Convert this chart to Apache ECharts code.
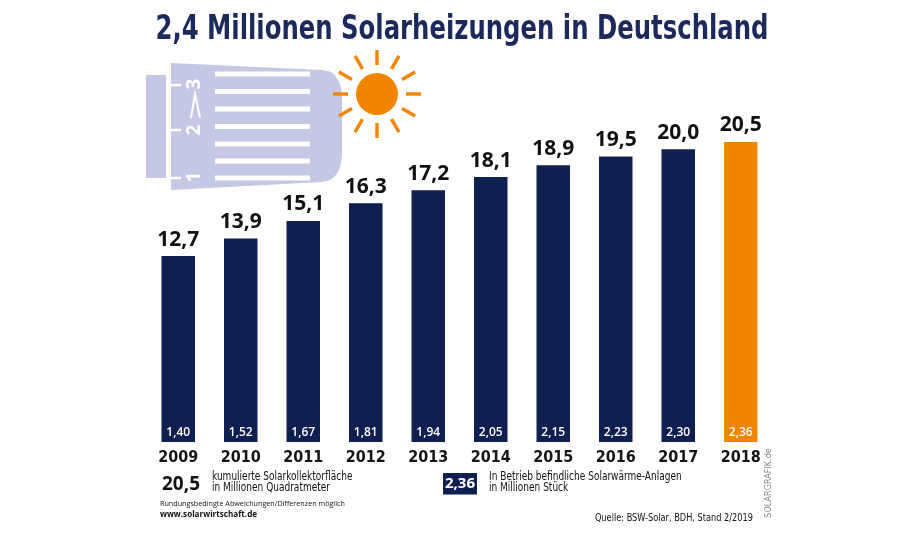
<!DOCTYPE html>
<html>
<head>
<meta charset="utf-8">
<script src="https://cdn.jsdelivr.net/npm/echarts@6/dist/echarts.min.js"></script>
<style>html,body{margin:0;padding:0;background:#fff}#c{width:920px;height:533px}</style>
</head>
<body>
<div id="c"></div>
<script>
const years = ['2009','2010','2011','2012','2013','2014','2015','2016','2017','2018'];
const collectorArea = [12.7, 13.9, 15.1, 16.3, 17.2, 18.1, 18.9, 19.5, 20.0, 20.5];
const systemsInOperation = [1.40, 1.52, 1.67, 1.81, 1.94, 2.05, 2.15, 2.23, 2.30, 2.36];

const NAVY = '#0e1f50';
const ORANGE = '#f18400';
const LAV = '#c5c8e4';
const COND = "'DejaVu Sans Condensed','Liberation Sans Narrow',sans-serif";
const SANS = "'Open Sans','Noto Sans',sans-serif";
const last = years.length - 1;
const fmt = (v, d) => v.toFixed(d).replace('.', ',');

const chart = echarts.init(document.getElementById('c'), null, {renderer: 'canvas'});

// quadratic curve helper for the thermostat outline
function quad(p0, c, p1, n) {
  const pts = [];
  for (let i = 1; i <= n; i++) {
    const t = i / n;
    pts.push([
      (1 - t) * (1 - t) * p0[0] + 2 * (1 - t) * t * c[0] + t * t * p1[0],
      (1 - t) * (1 - t) * p0[1] + 2 * (1 - t) * t * c[1] + t * t * p1[1]
    ]);
  }
  return pts;
}
const bodyPts = [[171, 63], [322, 70]]
  .concat(quad([322, 70], [342, 71], [342, 100], 10))
  .concat([[342, 152]])
  .concat(quad([342, 152], [342, 180], [322, 182], 10))
  .concat([[171, 190]]);

// sun rays
const sunRays = [];
for (let i = 0; i < 12; i++) {
  const a = i * Math.PI / 6;
  sunRays.push({
    type: 'line', silent: true,
    shape: {x1: 377 + 29 * Math.cos(a), y1: 94 + 29 * Math.sin(a), x2: 377 + 44 * Math.cos(a), y2: 94 + 44 * Math.sin(a)},
    style: {stroke: ORANGE, lineWidth: 3.4}
  });
}
const stripes = [74, 91.5, 109, 126.5, 144, 161, 178].map(y => ({
  type: 'rect', silent: true,
  shape: {x: 215, y: y - 2.6, width: 95, height: 5.2},
  style: {fill: '#fff'}
}));
const ticks = [85, 130, 178].map(y => ({
  type: 'line', silent: true,
  shape: {x1: 171, y1: y, x2: 181, y2: y},
  style: {stroke: '#fff', lineWidth: 2.5}
}));

function txt(x, y, text, font, sx, extra) {
  return Object.assign({type: 'text', silent: true, x: x, y: y, scaleX: sx,
    style: Object.assign({text: text, fill: '#111', font: font, verticalAlign: 'middle'}, extra || {})});
}

chart.setOption({
  animation: false,
  grid: {left: 147, right: 148, top: 76, bottom: 91},
  xAxis: {
    type: 'category', data: years,
    axisLine: {show: false}, axisTick: {show: false},
    axisLabel: {margin: 8, fontFamily: COND, fontWeight: 'bold', fontSize: 16, color: '#151515'}
  },
  yAxis: {type: 'value', min: 0, max: 25, show: false, splitLine: {show: false}},
  series: [
    {
      type: 'bar', data: collectorArea, barWidth: 33.5,
      itemStyle: {color: p => p.dataIndex === last ? ORANGE : NAVY},
      label: {
        show: true, position: 'top', distance: 6,
        formatter: p => fmt(p.value, 1),
        fontFamily: SANS, fontWeight: 'bold', fontSize: 21, color: '#111'
      },
      z: 2
    },
    {
      type: 'bar', data: collectorArea, barWidth: 33.5, barGap: '-100%',
      itemStyle: {color: 'rgba(0,0,0,0)'}, silent: true,
      label: {
        show: true, position: 'insideBottom', distance: 3,
        formatter: p => fmt(systemsInOperation[p.dataIndex], 2),
        fontFamily: SANS, fontWeight: 600, fontSize: 12, color: '#fff'
      },
      z: 3
    }
  ],
  graphic: [
    // title
    {type: 'text', silent: true, x: 462, y: 30, scaleX: 0.82,
      style: {text: '2,4 Millionen Solarheizungen in Deutschland', fill: '#1b2a5b',
        font: "bold 33px " + COND, align: 'center', verticalAlign: 'middle'}},
    // thermostat
    {type: 'rect', silent: true, shape: {x: 146, y: 75, width: 20, height: 103}, style: {fill: LAV}},
    {type: 'polygon', silent: true, shape: {points: bodyPts}, style: {fill: LAV}},
    ...stripes,
    ...ticks,
    {type: 'text', silent: true, x: 195, y: 84, rotation: Math.PI / 2,
      style: {text: '3', fill: '#fff', font: "bold 19px " + SANS, align: 'center', verticalAlign: 'middle'}},
    {type: 'text', silent: true, x: 195, y: 130, rotation: Math.PI / 2,
      style: {text: '2', fill: '#fff', font: "bold 19px " + SANS, align: 'center', verticalAlign: 'middle'}},
    {type: 'text', silent: true, x: 195, y: 177, rotation: Math.PI / 2,
      style: {text: '1', fill: '#fff', font: "bold 19px " + SANS, align: 'center', verticalAlign: 'middle'}},
    {type: 'polyline', silent: true, shape: {points: [[191, 118], [195, 94], [200, 118]]},
      style: {stroke: '#fff', lineWidth: 2, fill: null}},
    // sun
    ...sunRays,
    {type: 'circle', silent: true, shape: {cx: 377, cy: 94, r: 21}, style: {fill: ORANGE}},
    // legend
    txt(162, 485, '20,5', "bold 19px " + SANS, 1),
    txt(212, 483, 'kumulierte Solarkollektorfläche\nin Millionen Quadratmeter', "11.5px " + COND, 0.87, {lineHeight: 11}),
    txt(160, 504, 'Rundungsbedingte Abweichungen/Differenzen möglich', "8px " + SANS, 0.9),
    txt(160, 514, 'www.solarwirtschaft.de', "bold 9px " + SANS, 0.9),
    {type: 'rect', silent: true, shape: {x: 443, y: 473, width: 34, height: 21.5}, style: {fill: NAVY}},
    {type: 'text', silent: true, x: 460, y: 484,
      style: {text: '2,36', fill: '#fff', font: "bold 15px " + SANS, align: 'center', verticalAlign: 'middle'}},
    txt(489, 483, 'In Betrieb befindliche Solarwärme-Anlagen\nin Millionen Stück', "11.5px " + COND, 0.87, {lineHeight: 11}),
    {type: 'text', silent: true, x: 753, y: 518, scaleX: 0.87,
      style: {text: 'Quelle: BSW-Solar, BDH, Stand 2/2019', fill: '#111', font: "10.5px " + COND, align: 'right', verticalAlign: 'middle'}},
    {type: 'text', silent: true, x: 769, y: 483, rotation: Math.PI / 2,
      style: {text: 'SOLARGRAFIK.de', fill: '#8a8a8a', font: "9px " + COND, align: 'center', verticalAlign: 'middle'}}
  ]
});
</script>
</body>
</html>
